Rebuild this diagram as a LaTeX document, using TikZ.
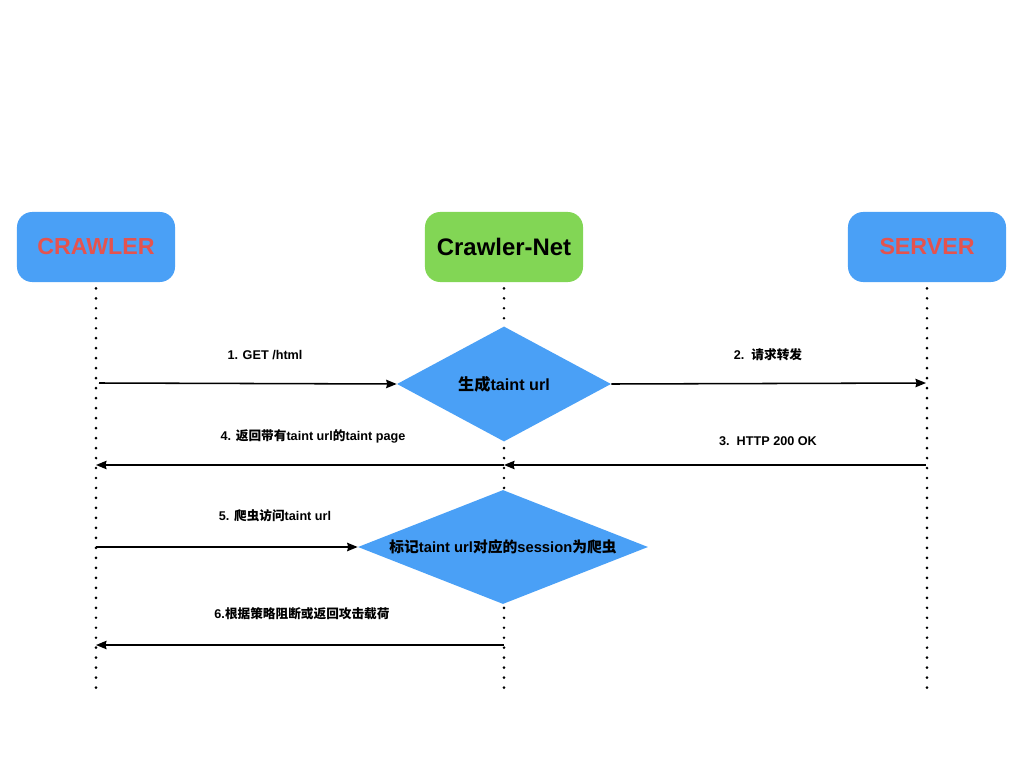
\documentclass[tikz,border=0pt]{standalone}
\usepackage{fontspec}
\setmainfont{Liberation Sans}
\newfontfamily\cjk{Noto Sans CJK SC}
\usetikzlibrary{shapes.geometric,arrows.meta}
\definecolor{actorblue}{RGB}{74,160,246}
\definecolor{netgreen}{RGB}{130,214,85}
\definecolor{actorred}{RGB}{229,83,78}
\begin{document}
\begin{tikzpicture}
		[x=0.025cm,y=-0.025cm,
		actor/.style={rectangle,rounded corners=0.38cm,fill=actorblue,text=actorred,minimum width=3.95cm,minimum height=1.75cm,font=\fontsize{16.5}{18}\bfseries},
		decide/.style={diamond,fill=actorblue,inner sep=0pt,font=\fontsize{11.5}{13}\bfseries},
		lifeline/.style={line width=2.1pt,line cap=round,dash pattern=on 0pt off 7.1pt},
		msg/.style={->,line width=1.1pt,>={Stealth[length=7.5pt,width=6pt,inset=0.8pt]}},
		lbl/.style={font=\fontsize{9}{11}\bfseries}]
		\useasboundingbox (0,0) rectangle (1024,768);

		% the three actors
		\node [actor] (crawler) at (96,247) {CRAWLER};
		\node [actor,fill=netgreen,text=black,font=\fontsize{17}{19}\bfseries] (net) at (504,247) {Crawler-Net};
		\node [actor] (server) at (927,247) {SERVER};

		% lifelines
		\coordinate (crawler-end) at (96,692);
		\coordinate (net-end) at (504,692);
		\coordinate (server-end) at (927,692);
		\draw [lifeline] ([yshift=-0.15cm]crawler.south) -- (crawler-end);
		\draw [lifeline] ([yshift=-0.15cm]net.south) -- (net-end);
		\draw [lifeline] ([yshift=-0.15cm]server.south) -- (server-end);

		% the two decisions on the crawler-net line
		\node [decide,aspect=1.86,minimum width=5.35cm,minimum height=2.875cm] (gen) at (504,384) {{\cjk\bfseries 生成}taint url};
		\node [decide,aspect=2.54,minimum width=7.25cm,minimum height=2.85cm,font=\fontsize{10.5}{12}\bfseries] (mark) at (503,547) {{\cjk\bfseries 标记}taint url{\cjk\bfseries 对应的}session{\cjk\bfseries 为爬虫}};

		% points on the lifelines
		\coordinate (c1) at (99,383);
		\coordinate (s2) at (926,383);
		\coordinate (s3) at (926,465);
		\coordinate (n3) at (504,465);
		\coordinate (c4) at (96,465);
		\coordinate (c5) at (96,547);
		\coordinate (n6) at (504,645);
		\coordinate (c6) at (96,645);

		% the messages
		\draw [msg] (c1) -- (gen.west);
		\node [lbl] (l1) at (265,355) {1. GET /html};
		\draw [msg] (gen.east) -- (s2);
		\node [lbl] (l2) at (768,355) {2.\ \ {\cjk\bfseries 请求转发}};
		\draw [msg] (s3) -- (n3);
		\node [lbl] (l3) at (768,441) {3.\ \ HTTP 200 OK};
		\draw [msg] (n3) -- (c4);
		\node [lbl] (l4) at (313,436) {4. {\cjk\bfseries 返回带有}taint url{\cjk\bfseries 的}taint page};
		\draw [msg] (c5) -- (mark.west);
		\node [lbl] (l5) at (275,516) {5. {\cjk\bfseries 爬虫访问}taint url};
		\draw [msg] (n6) -- (c6);
		\node [lbl] (l6) at (302,614) {6.{\cjk\bfseries 根据策略阻断或返回攻击载荷}};
	\end{tikzpicture}
\end{document}
